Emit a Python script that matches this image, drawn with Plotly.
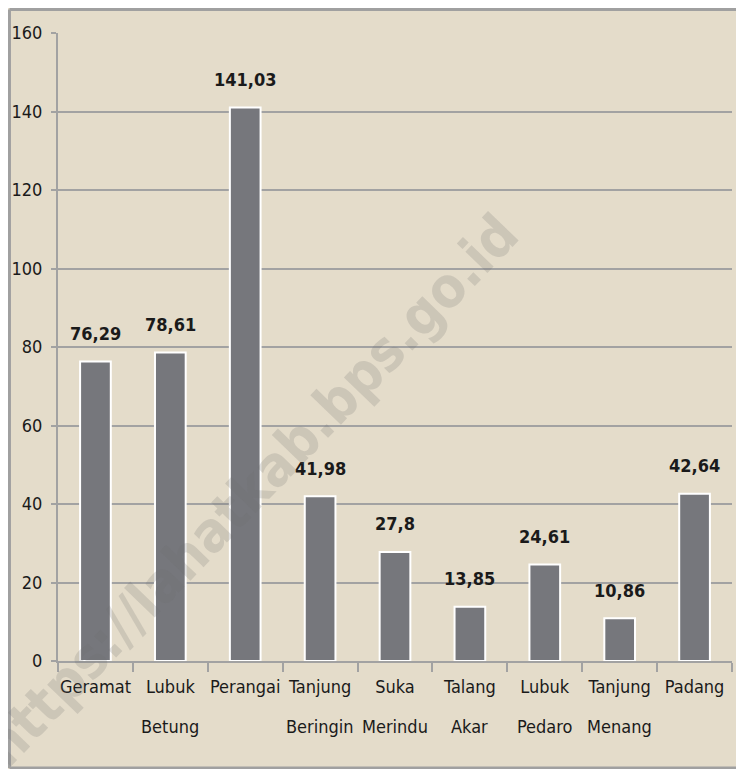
import plotly.graph_objects as go

categories = ["Geramat", "Lubuk Betung", "Perangai", "Tanjung Beringin", "Suka Merindu",
              "Talang Akar", "Lubuk Pedaro", "Tanjung Menang", "Padang"]
label_line1 = ["Geramat", "Lubuk", "Perangai", "Tanjung", "Suka", "Talang", "Lubuk", "Tanjung", "Padang"]
label_line2 = ["", "Betung", "", "Beringin", "Merindu", "Akar", "Pedaro", "Menang", ""]
values = [76.29, 78.61, 141.03, 41.98, 27.8, 13.85, 24.61, 10.86, 42.64]
value_labels = ["76,29", "78,61", "141,03", "41,98", "27,8", "13,85", "24,61", "10,86", "42,64"]
y_ticks = [0, 20, 40, 60, 80, 100, 120, 140, 160]

FONT = "DejaVu Sans Condensed, Liberation Sans Narrow, sans-serif"
BG = "#E4DCCA"
GRID = "#A2A2A2"
TXT = "#1a1a1a"

fig = go.Figure()
fig.add_trace(go.Bar(
    x=categories, y=values,
    marker=dict(color="#76777C", line=dict(color="white", width=2)),
    width=0.41, cliponaxis=False, hoverinfo="x+y",
))

fig.update_layout(
    width=744, height=769,
    margin=dict(l=50, r=20, t=25, b=116),
    paper_bgcolor=BG, plot_bgcolor=BG,
    showlegend=False,
    font=dict(family=FONT, size=18, color=TXT),
    xaxis=dict(
        showline=True, linecolor=GRID, linewidth=2,
        ticks="outside", tickson="boundaries", ticklen=9, tickcolor=GRID, tickwidth=2,
        tickvals=categories, ticktext=label_line1,
        tickfont=dict(family=FONT, size=18, color=TXT),
        tickangle=0, showgrid=False, ticklabelstandoff=8, automargin=False,
    ),
    yaxis=dict(
        range=[0, 160], tickvals=y_ticks,
        showline=True, linecolor=GRID, linewidth=2,
        ticks="outside", ticklen=5, tickcolor=GRID, tickwidth=2,
        gridcolor=GRID, gridwidth=2,
        tickfont=dict(family=FONT, size=18, color=TXT),
        zeroline=False, ticklabelstandoff=5, automargin=False,
    ),
)

# second line of category labels
for cat, l2 in zip(categories, label_line2):
    if l2:
        fig.add_annotation(text=l2, x=cat, xref="x", y=-0.105, yref="paper",
                           xanchor="center", yanchor="middle", showarrow=False,
                           font=dict(family=FONT, size=18, color=TXT))

# value labels above bars
for cat, v, lab in zip(categories, values, value_labels):
    fig.add_annotation(text=lab, x=cat, y=v, xref="x", yref="y",
                       xanchor="center", yanchor="middle", yshift=28, showarrow=False,
                       font=dict(family=FONT, size=18, color=TXT, weight="bold"))

# watermark
fig.add_annotation(
    text="https://lahatkab.bps.go.id", xref="paper", yref="paper",
    x=0.285, y=0.272, xanchor="center", yanchor="middle",
    showarrow=False, textangle=-46,
    font=dict(family="DejaVu Sans Condensed, sans-serif", size=56, color="rgba(110,110,110,0.2)", weight="bold"),
)

# frame lines (top, left, bottom)
for x0, x1, y0, y1 in [(-0.072, 1.03, 1.0374, 1.0374), (-0.072, -0.072, -0.1704, 1.0374),
                       (-0.072, 1.03, -0.1704, -0.1704)]:
    fig.add_shape(type="line", xref="paper", yref="paper", x0=x0, x1=x1, y0=y0, y1=y1,
                  line=dict(color="#A0A0A0", width=3), layer="above")

fig.write_html("out.html")
